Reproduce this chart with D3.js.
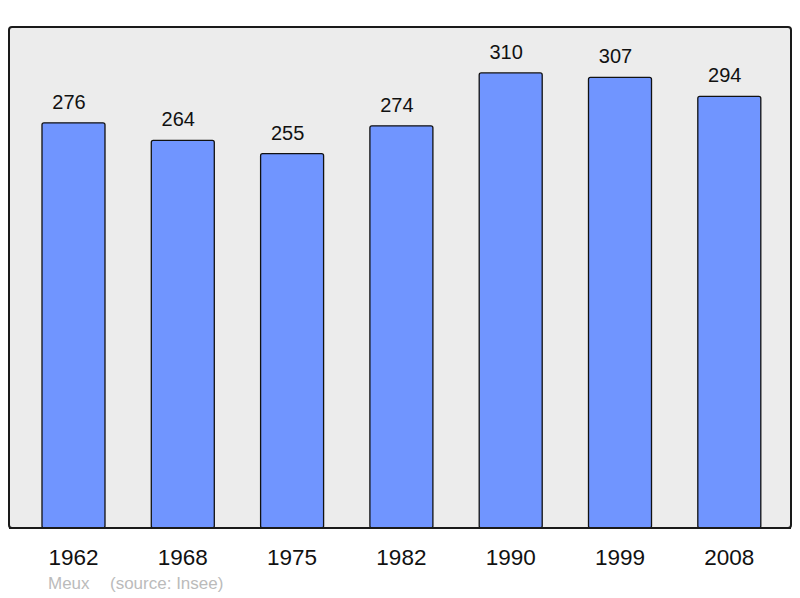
<!DOCTYPE html>
<html>
<head>
<meta charset="utf-8">
<script src="https://cdn.jsdelivr.net/npm/d3@7"></script>
<style>
body { margin: 0; background: #fff; }
text { font-family: "Liberation Sans", Arial, sans-serif; }
</style>
</head>
<body>
<svg id="chart" width="800" height="598"></svg>
<script>
const years = ['1962', '1968', '1975', '1982', '1990', '1999', '2008']
const population = [276, 264, 255, 274, 310, 307, 294]
const place = 'Meux'
const source = '(source: Insee)'

const svg = d3.select('#chart')
const panelLeft = 9, panelRight = 791, panelTop = 27, panelBottom = 528

// panel
svg.append('rect')
    .attr('x', panelLeft).attr('y', panelTop)
    .attr('width', panelRight - panelLeft).attr('height', panelBottom - panelTop)
    .attr('rx', 3)
    .attr('fill', '#ececec')
    .attr('stroke', '#1a1a1a')
    .attr('stroke-width', 2)

const x = d3.scaleBand()
    .domain(years)
    .range([9.2, 793.6])
    .paddingInner(0.4236)
    .paddingOuter(0.3)

const y = d3.scaleLinear()
    .domain([0, 341.3])
    .range([panelBottom, panelTop])

svg.selectAll('rect.bar')
    .data(population)
    .join('rect')
    .attr('class', 'bar')
    .attr('x', (d, i) => x(years[i]))
    .attr('y', d => y(d))
    .attr('width', x.bandwidth())
    .attr('height', d => panelBottom - y(d))
    .attr('rx', 2)
    .attr('fill', '#7095ff')
    .attr('stroke', '#111')
    .attr('stroke-width', 1.3)

// value labels sit a little left of the bar centre
svg.selectAll('text.value')
    .data(population)
    .join('text')
    .attr('class', 'value')
    .attr('x', (d, i) => x(years[i]) + x.bandwidth() / 2 - 4.5)
    .attr('y', d => y(d) - 14)
    .attr('text-anchor', 'middle')
    .attr('font-size', 20)
    .attr('fill', '#111')
    .text(d => d)

// redraw panel bottom line over bars
svg.append('line')
    .attr('x1', panelLeft).attr('x2', panelRight)
    .attr('y1', panelBottom).attr('y2', panelBottom)
    .attr('stroke', '#1a1a1a')
    .attr('stroke-width', 2)

svg.selectAll('text.year')
    .data(years)
    .join('text')
    .attr('class', 'year')
    .attr('x', d => x(d) + x.bandwidth() / 2)
    .attr('y', 565)
    .attr('text-anchor', 'middle')
    .attr('font-size', 22.5)
    .attr('fill', '#111')
    .text(d => d)

svg.append('text')
    .attr('x', 48).attr('y', 589)
    .attr('font-size', 17)
    .attr('fill', '#bbb')
    .text(place)
svg.append('text')
    .attr('x', 110).attr('y', 589)
    .attr('font-size', 17)
    .attr('fill', '#bbb')
    .text(source)
</script>
</body>
</html>
